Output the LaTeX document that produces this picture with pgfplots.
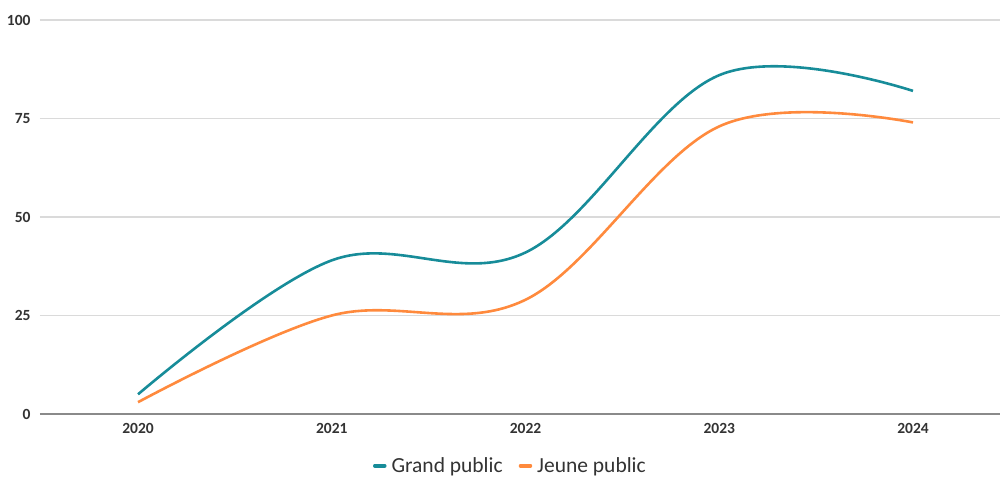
\documentclass[border=0pt]{standalone}
\usepackage{pgfplots}
\pgfplotsset{compat=1.18}
\usepackage{fontspec}
\setmainfont{Carlito}
\definecolor{teal1}{HTML}{178C99}
\definecolor{orng}{HTML}{FF8A3D}
\definecolor{gridc}{HTML}{DADADA}
\definecolor{axc}{HTML}{8A8A8A}
\definecolor{txt}{HTML}{333333}
\begin{document}
\begin{tikzpicture}
\useasboundingbox (-40pt,-63pt) rectangle (962pt,414pt);
\begin{axis}[
  scale only axis,
  width=960pt, height=394pt,
  xmin=-0.506, xmax=4.449,
  ymin=0, ymax=100,
  xtick={0,1,2,3,4},
  xticklabels={2020,2021,2022,2023,2024},
  ytick={0,25,50,75,100},
  ymajorgrids,
  grid style={gridc, line width=1.2pt},
  axis x line*=bottom,
  axis y line*=left,
  y axis line style={draw=none},
  x axis line style={axc, line width=1.5pt, -},
  major tick length=0pt,
  tick label style={font=\fontsize{15.5}{17}\selectfont\bfseries, text=txt},
  yticklabel style={anchor=east, xshift=-6pt},
  xticklabel style={yshift=-6pt},
  /pgf/number format/assume math mode=true,
  clip=false,
  legend style={at={(axis description cs:0.49,-0.1)}, anchor=north, draw=none, fill=none,
    legend columns=2, font=\fontsize{21.5}{23}\selectfont, text=txt,
    /tikz/every even column/.append style={column sep=14pt},
    /tikz/every odd column/.append style={column sep=3pt}},
  legend image code/.code={\draw[line width=3.5pt, line cap=round] (0pt,0pt) -- (10pt,0pt);},
]
\addplot[teal1, line width=2.6pt, smooth, tension=0.6] coordinates {(0,5) (1,39) (2,41) (3,86) (4,82)};
\addlegendentry{Grand public}
\addplot[orng, line width=2.6pt, smooth, tension=0.6] coordinates {(0,3) (1,25) (2,29) (3,73) (4,74)};
\addlegendentry{Jeune public}
\end{axis}
\end{tikzpicture}
\end{document}
